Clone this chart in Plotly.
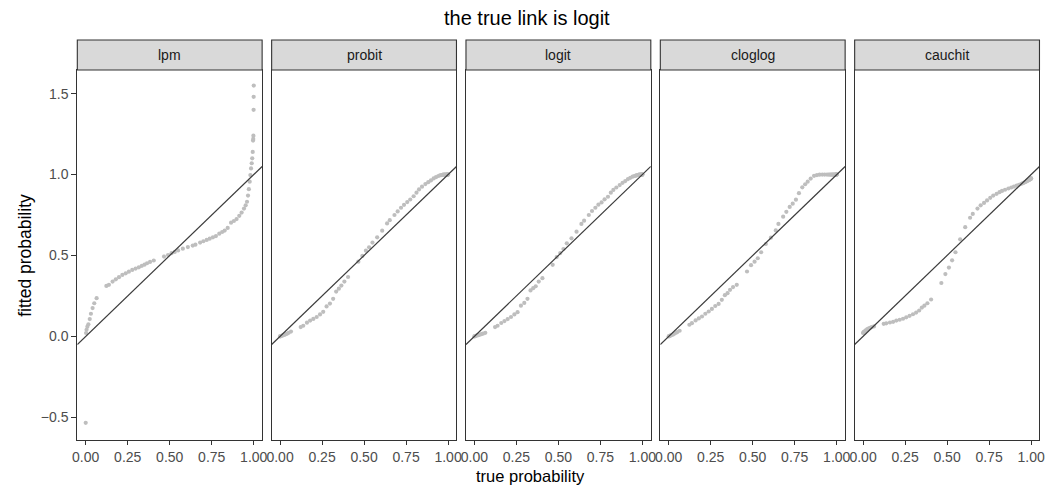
import plotly.graph_objects as go

# ---------------- data ----------------
links = ["lpm", "probit", "logit", "cloglog", "cauchit"]

true_prob = [0.000, 0.002, 0.005, 0.010, 0.016, 0.024, 0.031, 0.041, 0.051, 0.065,
             0.123, 0.138, 0.160, 0.179, 0.198, 0.218, 0.238, 0.257, 0.277, 0.297,
             0.316, 0.334, 0.350, 0.365, 0.383, 0.405,
             0.466, 0.490, 0.511, 0.530, 0.550, 0.578, 0.608, 0.637, 0.653, 0.681,
             0.700, 0.720, 0.738, 0.757, 0.775, 0.795, 0.812, 0.827, 0.845, 0.865,
             0.882, 0.898, 0.914, 0.928, 0.942, 0.952, 0.960, 0.966, 0.971, 0.976,
             0.980, 0.984, 0.988, 0.991, 0.994, 0.996, 0.997, 0.998, 0.999, 0.9995, 1.000]

fit_lpm = [-0.534, 0.021, 0.041, 0.060, 0.075, 0.107, 0.140, 0.175, 0.205, 0.236,
           0.312, 0.319, 0.339, 0.353, 0.366, 0.380, 0.390, 0.400, 0.411, 0.419,
           0.427, 0.436, 0.443, 0.452, 0.460, 0.469,
           0.493, 0.503, 0.514, 0.522, 0.531, 0.542, 0.552, 0.561, 0.567, 0.580,
           0.588, 0.596, 0.604, 0.612, 0.620, 0.635, 0.645, 0.654, 0.670, 0.703,
           0.713, 0.725, 0.745, 0.765, 0.790, 0.810, 0.832, 0.870, 0.910, 0.956,
           0.997, 1.038, 1.070, 1.100, 1.140, 1.210, 1.220, 1.240, 1.400, 1.480, 1.550]

fit_probit = [0.000, 0.001, 0.002, 0.004, 0.006, 0.009, 0.012, 0.016, 0.022, 0.030,
              0.058, 0.066, 0.085, 0.098, 0.108, 0.120, 0.136, 0.152, 0.185, 0.203,
              0.232, 0.277, 0.295, 0.314, 0.339, 0.367,
              0.462, 0.497, 0.530, 0.551, 0.580, 0.612, 0.653, 0.698, 0.718, 0.750,
              0.772, 0.795, 0.813, 0.830, 0.846, 0.866, 0.888, 0.908, 0.925, 0.941,
              0.953, 0.964, 0.976, 0.984, 0.991, 0.995, 0.997, 0.998, 0.999, 0.999,
              1.000, 1.000, 1.000, 1.000, 1.000, 1.000, 1.000, 1.000, 1.000, 1.000, 1.000]

fit_logit = [0.000, 0.001, 0.002, 0.004, 0.006, 0.008, 0.010, 0.014, 0.017, 0.022,
             0.058, 0.066, 0.083, 0.095, 0.107, 0.120, 0.136, 0.150, 0.190, 0.207,
             0.232, 0.284, 0.298, 0.310, 0.339, 0.360,
             0.442, 0.490, 0.515, 0.540, 0.575, 0.606, 0.647, 0.695, 0.715, 0.750,
             0.775, 0.795, 0.814, 0.828, 0.847, 0.863, 0.888, 0.905, 0.920, 0.935,
             0.949, 0.960, 0.972, 0.980, 0.987, 0.991, 0.993, 0.995, 0.997, 0.998,
             0.999, 1.000, 1.000, 1.000, 1.000, 1.000, 1.000, 1.000, 1.000, 1.000, 1.000]

fit_cloglog = [0.000, 0.001, 0.003, 0.005, 0.008, 0.011, 0.015, 0.021, 0.027, 0.035,
               0.072, 0.082, 0.099, 0.111, 0.123, 0.140, 0.154, 0.170, 0.188, 0.201,
               0.226, 0.255, 0.267, 0.288, 0.305, 0.319,
               0.401, 0.440, 0.462, 0.483, 0.520, 0.571, 0.610, 0.655, 0.695, 0.740,
               0.770, 0.800, 0.820, 0.845, 0.885, 0.921, 0.940, 0.956, 0.975, 0.992,
               0.997, 0.999, 1.000, 1.000, 1.000, 1.000, 1.000, 1.000, 1.000, 1.000,
               1.000, 1.000, 1.000, 1.000, 1.000, 1.000, 1.000, 1.000, 1.000, 1.000, 1.000]

fit_cauchit = [0.021, 0.024, 0.028, 0.032, 0.037, 0.043, 0.049, 0.053, 0.057, 0.062,
               0.078, 0.081, 0.086, 0.090, 0.098, 0.103, 0.109, 0.118, 0.127, 0.137,
               0.147, 0.160, 0.178, 0.190, 0.205, 0.228,
               0.330, 0.385, 0.425, 0.470, 0.520, 0.600, 0.675, 0.733, 0.757, 0.790,
               0.810, 0.825, 0.840, 0.856, 0.870, 0.881, 0.891, 0.899, 0.906, 0.914,
               0.920, 0.926, 0.932, 0.937, 0.943, 0.947, 0.951, 0.954, 0.957, 0.960,
               0.962, 0.965, 0.967, 0.969, 0.971, 0.972, 0.973, 0.974, 0.975, 0.976, 0.977]

fitted = [fit_lpm, fit_probit, fit_logit, fit_cloglog, fit_cauchit]

x_ticks = [0.0, 0.25, 0.5, 0.75, 1.0]
y_ticks = [-0.5, 0.0, 0.5, 1.0, 1.5]

# ---------------- layout constants ----------------
W, H = 1053, 487
X_RANGE = [-0.05, 1.05]
Y_RANGE = [-0.64, 1.646]
P_LEFT, P_WIDTH, P_PITCH = 73.0, 186.6, 196.2
P_TOP, P_BOTTOM = 70.0, 440.0
STRIP_H = 30.0
FONT = "Liberation Sans, Arial, sans-serif"
BORDER = "#333333"

fig = go.Figure()
layout = dict(
    width=W, height=H,
    margin=dict(l=0, r=0, t=0, b=0),
    paper_bgcolor="white", plot_bgcolor="white",
    showlegend=False,
    font=dict(family=FONT, color="#4d4d4d"),
)
shapes, annotations = [], []

y0p = (H - P_BOTTOM) / H
y1p = (H - P_TOP) / H
for k, (name, ys) in enumerate(zip(links, fitted)):
    sfx = "" if k == 0 else str(k + 1)
    left = P_LEFT + k * P_PITCH
    dom = [left / W, (left + P_WIDTH) / W]
    fig.add_trace(go.Scatter(
        x=true_prob, y=ys, mode="markers", xaxis="x" + sfx, yaxis="y" + sfx,
        marker=dict(size=4.2, color="#BEBEBE", line=dict(width=0)),
        hoverinfo="skip"))
    fig.add_trace(go.Scatter(
        x=X_RANGE, y=X_RANGE, mode="lines", xaxis="x" + sfx, yaxis="y" + sfx,
        line=dict(color="#3c3c3c", width=1.2), hoverinfo="skip"))
    layout["xaxis" + sfx] = dict(
        domain=dom, range=X_RANGE, anchor="y" + sfx,
        tickvals=x_ticks, tickformat=".2f",
        ticks="outside", ticklen=4, tickwidth=1, tickcolor=BORDER,
        tickfont=dict(size=14, color="#4d4d4d", family=FONT),
        showgrid=False, zeroline=False,
        showline=True, mirror=True, linecolor=BORDER, linewidth=1.1)
    layout["yaxis" + sfx] = dict(
        domain=[y0p, y1p], range=Y_RANGE, anchor="x" + sfx,
        tickvals=y_ticks, tickformat=".1f",
        ticks="outside" if k == 0 else "", ticklen=5, tickwidth=1, tickcolor=BORDER,
        showticklabels=(k == 0),
        tickfont=dict(size=14, color="#4d4d4d", family=FONT),
        showgrid=False, zeroline=False,
        showline=True, mirror=True, linecolor=BORDER, linewidth=1.1)
    # strip
    shapes.append(dict(type="rect", xref="paper", yref="paper",
                       x0=dom[0], x1=dom[1],
                       y0=(H - P_TOP) / H, y1=(H - P_TOP + STRIP_H) / H,
                       fillcolor="#D9D9D9", line=dict(color=BORDER, width=1.1)))
    annotations.append(dict(text=name, xref="paper", yref="paper",
                            x=(dom[0] + dom[1]) / 2, y=(H - P_TOP + STRIP_H / 2) / H,
                            showarrow=False, xanchor="center", yanchor="middle",
                            font=dict(size=14, color="#1a1a1a", family=FONT)))

annotations.append(dict(text="the true link is logit", xref="paper", yref="paper",
                        x=527 / W, y=(H - 18) / H, showarrow=False,
                        xanchor="center", yanchor="middle",
                        font=dict(size=20, color="black", family=FONT)))
annotations.append(dict(text="true probability", xref="paper", yref="paper",
                        x=531 / W, y=(H - 476) / H, showarrow=False,
                        xanchor="center", yanchor="middle",
                        font=dict(size=16.5, color="black", family=FONT)))
annotations.append(dict(text="fitted probability", xref="paper", yref="paper",
                        x=20 / W, y=(H - (P_TOP + P_BOTTOM) / 2) / H,
                        showarrow=False, textangle=-90,
                        xanchor="center", yanchor="middle",
                        font=dict(size=17.5, color="black", family=FONT)))

layout["shapes"] = shapes
layout["annotations"] = annotations
fig.update_layout(**layout)
fig.write_html(
    "out.html",
    config={"displayModeBar": False},
    post_script="document.body.style.margin='0px';document.body.style.padding='0px';"
                "document.documentElement.style.overflow='hidden';",
)
